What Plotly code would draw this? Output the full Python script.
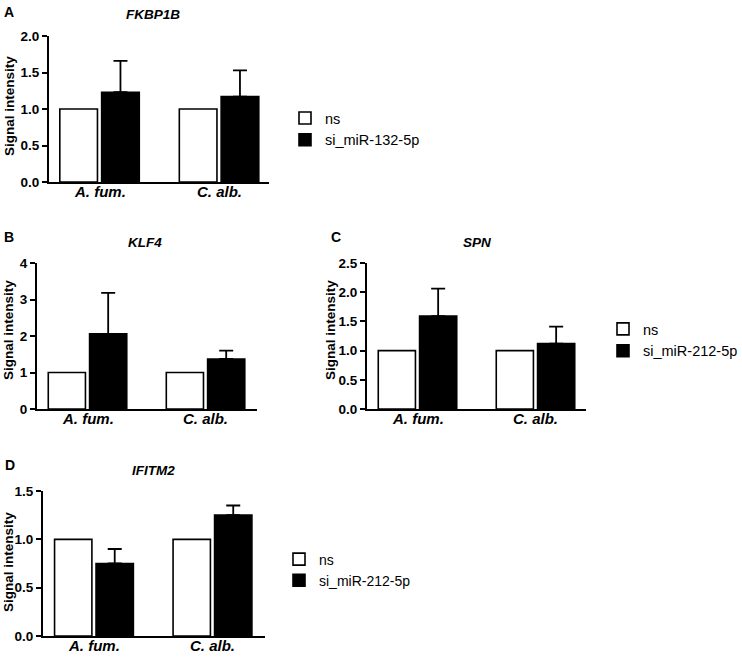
import plotly.graph_objects as go

# ---------------- data ----------------
categories = ["A. fum.", "C. alb."]
genes = ["FKBP1B", "KLF4", "SPN", "IFITM2"]
panel_letters = ["A", "B", "C", "D"]

ns_fkbp1b = [1.0, 1.0]
si_fkbp1b = [1.23, 1.17]
err_fkbp1b = [0.43, 0.36]

ns_klf4 = [1.0, 1.0]
si_klf4 = [2.06, 1.37]
err_klf4 = [1.12, 0.23]

ns_spn = [1.0, 1.0]
si_spn = [1.59, 1.12]
err_spn = [0.47, 0.29]

ns_ifitm2 = [1.0, 1.0]
si_ifitm2 = [0.75, 1.25]
err_ifitm2 = [0.15, 0.10]

series_ns = [ns_fkbp1b, ns_klf4, ns_spn, ns_ifitm2]
series_si = [si_fkbp1b, si_klf4, si_spn, si_ifitm2]
series_err = [err_fkbp1b, err_klf4, err_spn, err_ifitm2]

si_names = ["si_miR-132-5p", None, "si_miR-212-5p", "si_miR-212-5p"]
legend_ids = ["legend", None, "legend2", "legend3"]

y_max = [2.0, 4.0, 2.5, 1.5]
y_dtick = [0.5, 1.0, 0.5, 0.5]
y_fmt = [".1f", "d", ".1f", ".1f"]

# ---------------- layout geometry (pixels) ----------------
W, H = 742, 657
FONT = "Liberation Sans, Arial, sans-serif"
# x pixel extents of the plot areas, y pixel (top, bottom)
px_x = [(49, 269), (37, 257), (367, 586), (43, 265)]
px_y = [(36, 182), (263, 409), (263, 409), (491, 636)]
x_ranges = [(-0.423, 1.418), (-0.428, 1.436), (-0.428, 1.428), (-0.430, 1.443)]

def fx(p):
    return p / W

def fy(p):
    return 1 - p / H

fig = go.Figure()

for i in range(4):
    xa = "x" if i == 0 else f"x{i+1}"
    ya = "y" if i == 0 else f"y{i+1}"
    leg = legend_ids[i]
    fig.add_trace(go.Bar(
        x=categories, y=series_ns[i], name="ns",
        xaxis=xa, yaxis=ya,
        marker=dict(color="white", line=dict(color="black", width=1.6)),
        showlegend=leg is not None, legend=leg if leg else "legend",
        offsetgroup="ns",
    ))
    fig.add_trace(go.Bar(
        x=categories, y=series_si[i], name=si_names[i] or "si",
        xaxis=xa, yaxis=ya,
        marker=dict(color="black", line=dict(color="black", width=1.6)),
        error_y=dict(type="data", symmetric=False, array=series_err[i],
                     arrayminus=[0, 0], color="black", thickness=1.8, width=7),
        showlegend=leg is not None, legend=leg if leg else "legend",
        offsetgroup="si",
    ))

layout = dict(
    width=W, height=H,
    margin=dict(l=0, r=0, t=0, b=0, pad=0, autoexpand=False),
    paper_bgcolor="white", plot_bgcolor="white",
    barmode="group", bargap=0.3, bargroupgap=0.1,
    font=dict(family=FONT, color="black"),
)

for i in range(4):
    sx = "" if i == 0 else str(i + 1)
    layout[f"xaxis{sx}"] = dict(
        domain=[fx(px_x[i][0]), fx(px_x[i][1])],
        anchor=f"y{sx}", type="category", range=list(x_ranges[i]),
        showline=True, linecolor="black", linewidth=2,
        ticks="", showgrid=False, zeroline=False, automargin=False,
        showticklabels=False,
        fixedrange=True,
    )
    layout[f"yaxis{sx}"] = dict(
        domain=[fy(px_y[i][1]), fy(px_y[i][0])],
        anchor=f"x{sx}", range=[0, y_max[i]], dtick=y_dtick[i], tick0=0,
        tickformat=y_fmt[i],
        showline=True, linecolor="black", linewidth=2,
        ticks="outside", ticklen=5, tickwidth=2, tickcolor="black",
        showgrid=False, zeroline=False, automargin=False,
        tickfont=dict(family=FONT, size=13.5, color="black", weight="bold"),
        fixedrange=True,
    )

# legends
leg_common = dict(xref="paper", yref="paper", xanchor="left", yanchor="middle",
                  bgcolor="rgba(0,0,0,0)", borderwidth=0, tracegroupgap=0,
                  itemclick=False)
layout["legend"] = dict(leg_common, x=fx(285), y=fy(129),
                        font=dict(family=FONT, size=14.5, color="black"))
layout["legend2"] = dict(leg_common, x=fx(603), y=fy(340),
                         font=dict(family=FONT, size=14.5, color="black"))
layout["legend3"] = dict(leg_common, x=fx(279), y=fy(570),
                         font=dict(family=FONT, size=14, color="black"))

fig.update_layout(**layout)

# panel letters, gene titles, y-axis titles
letter_pos = [(9, 12), (9, 237), (336, 237), (10, 465)]
title_pos = [(153, 15), (145, 242), (477, 242), (153, 470)]
ytitle_pos = [(9, 106), (8, 330), (330, 330), (8, 562)]

for i in range(4):
    xa = "x" if i == 0 else f"x{i+1}"
    fig.add_annotation(text=f"<b>{panel_letters[i]}</b>", x=fx(letter_pos[i][0]),
                       y=fy(letter_pos[i][1]), xref="paper", yref="paper",
                       showarrow=False, font=dict(family=FONT, size=14, color="black"),
                       xanchor="center", yanchor="middle")
    fig.add_annotation(text=genes[i], x=fx(title_pos[i][0]), y=fy(title_pos[i][1]),
                       xref="paper", yref="paper", showarrow=False,
                       font=dict(family=FONT, size=13.5, color="black", weight="bold", style="italic"),
                       xanchor="center", yanchor="middle")
    fig.add_annotation(text="Signal intensity", x=fx(ytitle_pos[i][0]), y=fy(ytitle_pos[i][1]),
                       xref="paper", yref="paper", showarrow=False, textangle=-90,
                       font=dict(family=FONT, size=13.5, color="black", weight="bold"),
                       xanchor="center", yanchor="middle")
    # category labels under each x axis
    for cat in categories:
        fig.add_annotation(text=cat, x=cat, xref=xa, y=fy(px_y[i][1] + 9.5), yref="paper",
                           showarrow=False, xanchor="center", yanchor="middle",
                           font=dict(family=FONT, size=15, color="black", weight="bold", style="italic"))

fig.write_html("out.html", config={"displayModeBar": False},
               post_script="document.body.style.margin='0px';document.body.style.overflow='hidden';")
